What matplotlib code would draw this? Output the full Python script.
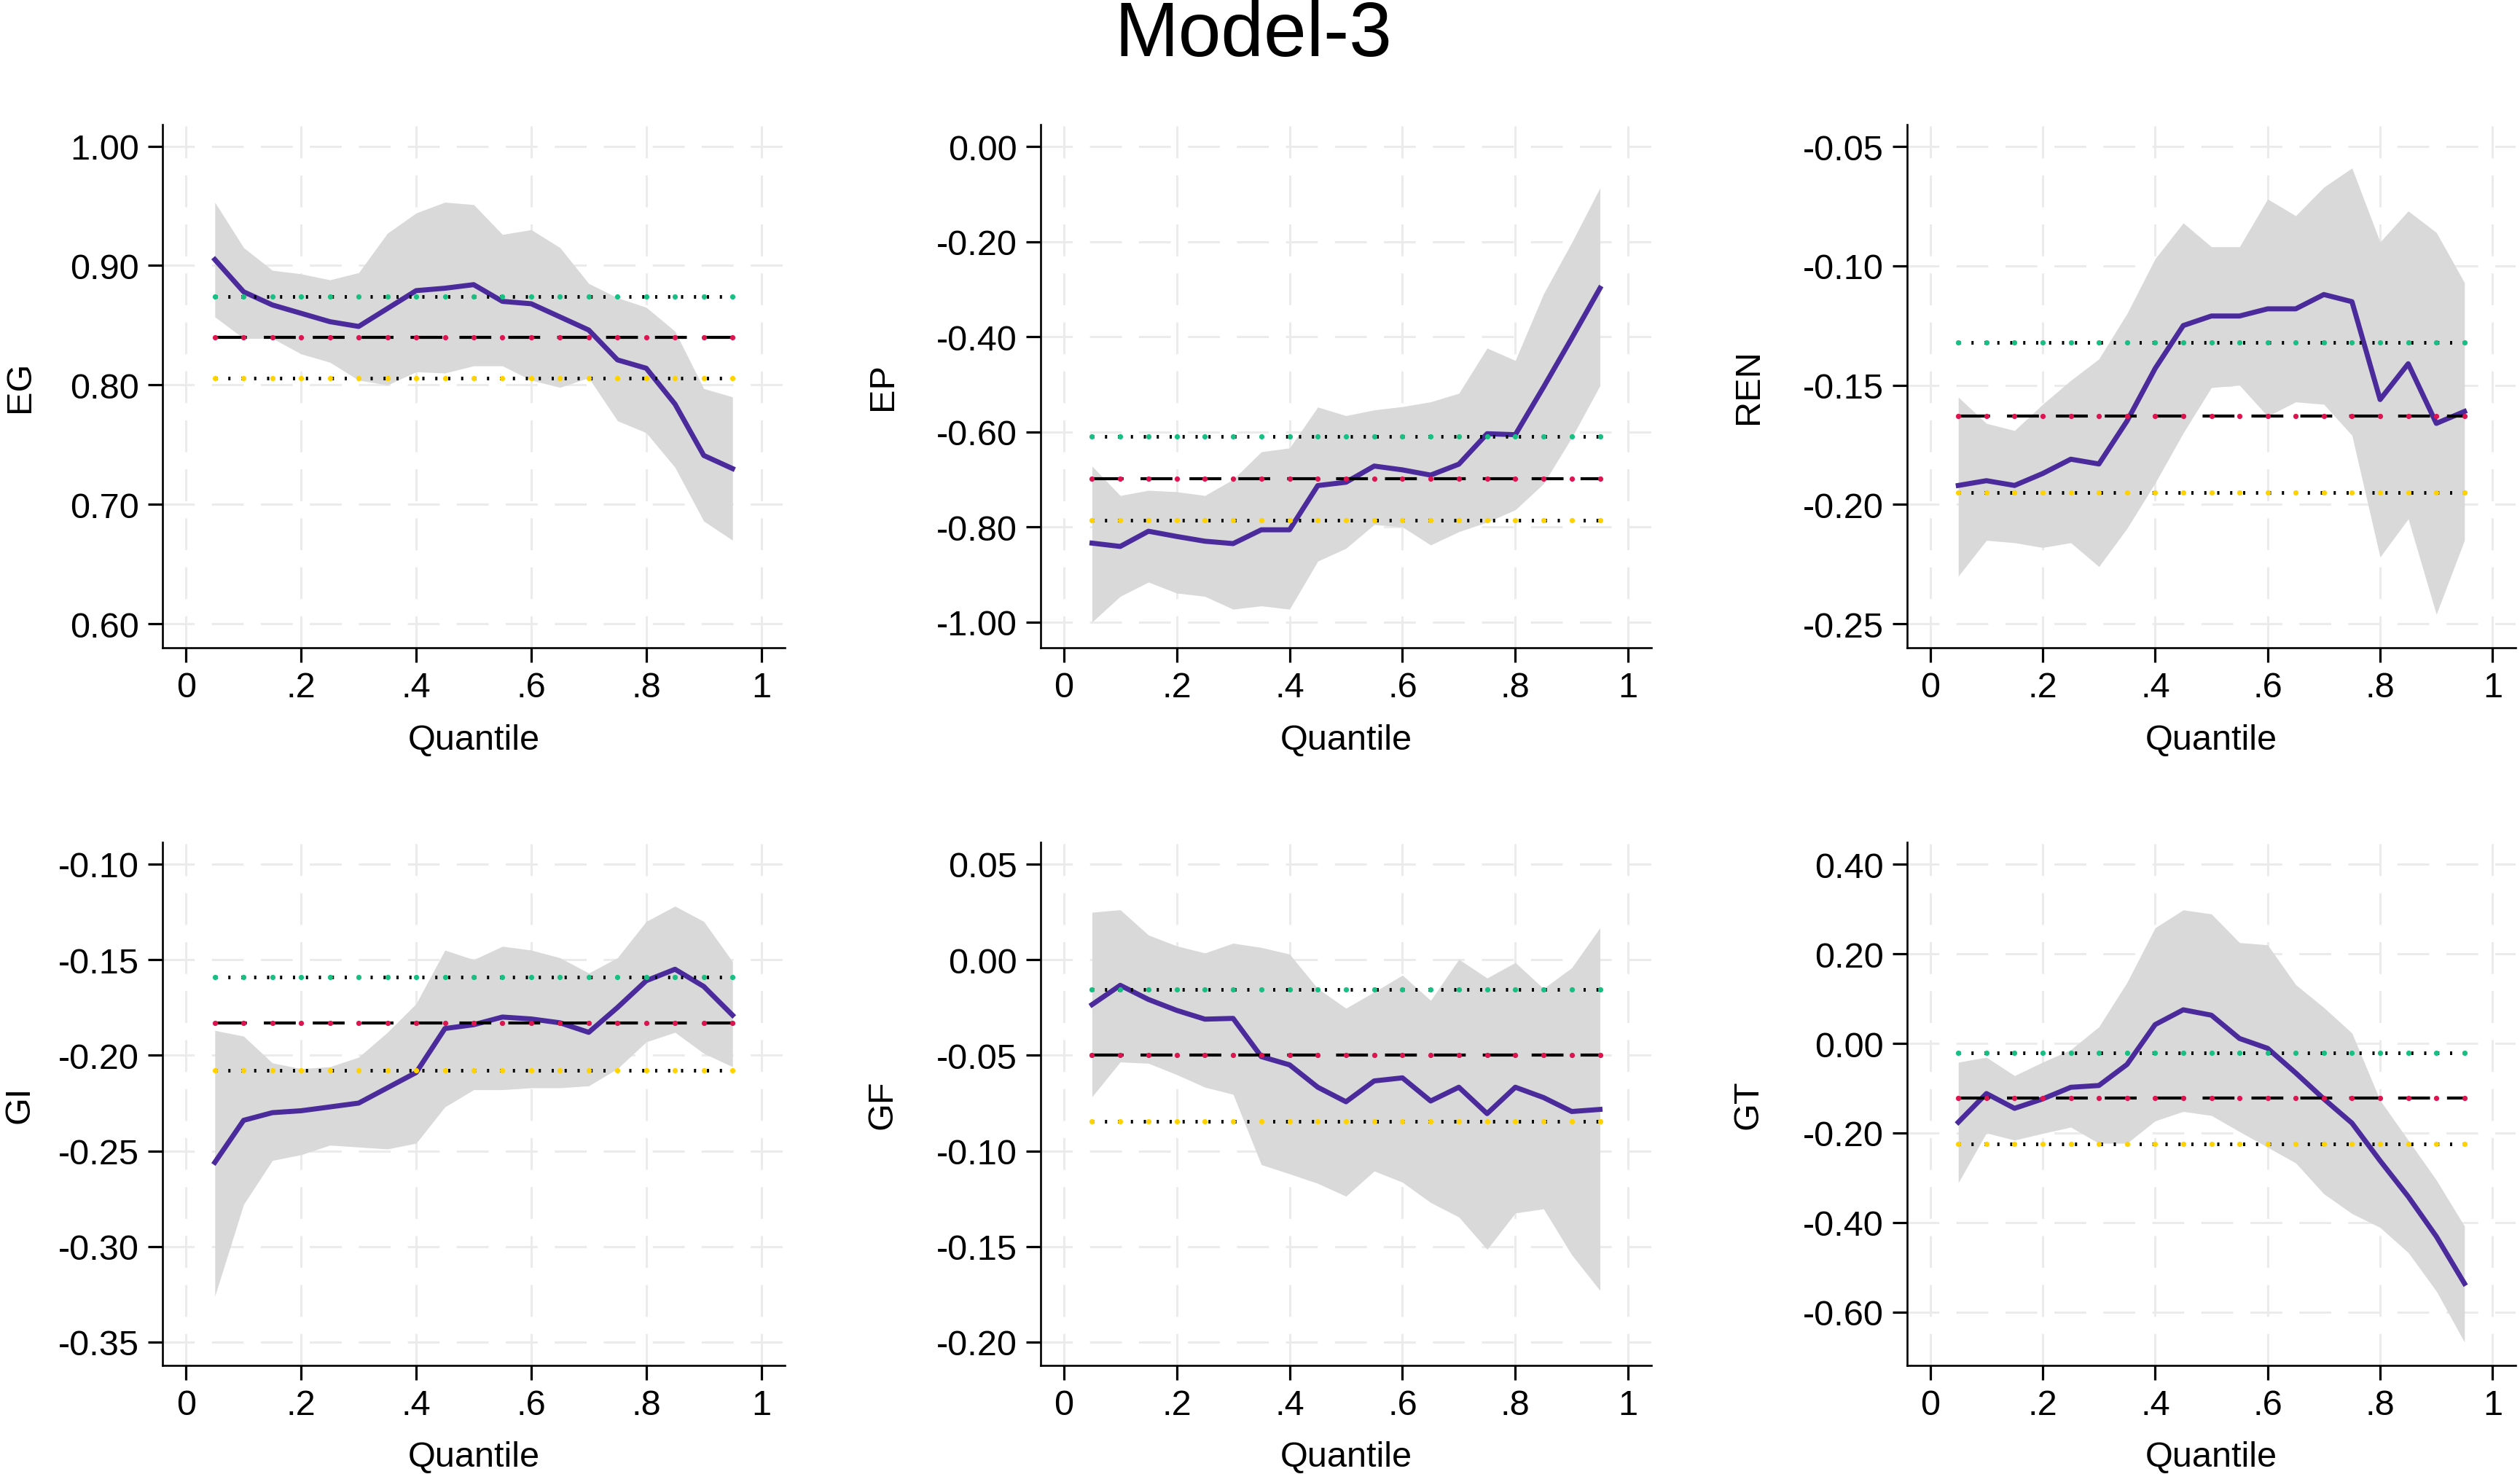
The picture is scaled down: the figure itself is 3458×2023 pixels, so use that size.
import matplotlib
matplotlib.use("Agg")
import matplotlib.pyplot as plt
import numpy as np

plt.rcParams['font.family'] = ['Liberation Sans', 'DejaVu Sans']
plt.rcParams['axes.unicode_minus'] = False

# ---------------- data ----------------
quantiles = [0.05, 0.10, 0.15, 0.20, 0.25, 0.30, 0.35, 0.40, 0.45, 0.50,
             0.55, 0.60, 0.65, 0.70, 0.75, 0.80, 0.85, 0.90, 0.95]

EG_coef = [0.905, 0.878, 0.867, 0.860, 0.853, 0.849, 0.864, 0.879, 0.881, 0.884,
           0.870, 0.868, 0.857, 0.846, 0.821, 0.814, 0.784, 0.741, 0.730]
EG_hi = [0.953, 0.915, 0.896, 0.893, 0.888, 0.894, 0.927, 0.944, 0.953, 0.951,
         0.926, 0.930, 0.915, 0.885, 0.873, 0.865, 0.845, 0.797, 0.790]
EG_lo = [0.857, 0.839, 0.839, 0.826, 0.819, 0.804, 0.800, 0.811, 0.810, 0.816,
         0.816, 0.804, 0.798, 0.806, 0.770, 0.760, 0.731, 0.686, 0.670]
EG_ols = [0.840, 0.874, 0.806]   # estimate, upper, lower

EP_coef = [-0.834, -0.841, -0.809, -0.820, -0.830, -0.835, -0.806, -0.806, -0.713, -0.706,
           -0.672, -0.680, -0.691, -0.668, -0.604, -0.606, -0.506, -0.403, -0.298]
EP_hi = [-0.672, -0.734, -0.723, -0.726, -0.734, -0.700, -0.642, -0.634, -0.548, -0.566,
         -0.554, -0.547, -0.537, -0.519, -0.424, -0.450, -0.310, -0.202, -0.087]
EP_lo = [-1.000, -0.946, -0.916, -0.939, -0.946, -0.973, -0.966, -0.973, -0.872, -0.845,
         -0.795, -0.800, -0.838, -0.810, -0.790, -0.764, -0.709, -0.612, -0.503]
EP_ols = [-0.698, -0.610, -0.786]

REN_coef = [-0.192, -0.190, -0.192, -0.187, -0.181, -0.183, -0.165, -0.143, -0.125, -0.121,
            -0.121, -0.118, -0.118, -0.112, -0.115, -0.156, -0.141, -0.166, -0.161]
REN_hi = [-0.155, -0.166, -0.169, -0.158, -0.148, -0.139, -0.120, -0.097, -0.082, -0.092,
          -0.092, -0.072, -0.079, -0.067, -0.059, -0.090, -0.077, -0.086, -0.107]
REN_lo = [-0.230, -0.215, -0.216, -0.218, -0.216, -0.226, -0.210, -0.191, -0.170, -0.151,
          -0.150, -0.163, -0.157, -0.158, -0.171, -0.222, -0.206, -0.246, -0.215]
REN_ols = [-0.163, -0.132, -0.195]

GI_coef = [-0.256, -0.234, -0.230, -0.229, -0.227, -0.225, -0.217, -0.209, -0.186, -0.184,
           -0.180, -0.181, -0.183, -0.188, -0.175, -0.161, -0.155, -0.164, -0.179]
GI_hi = [-0.187, -0.190, -0.204, -0.207, -0.206, -0.201, -0.188, -0.173, -0.145, -0.150,
         -0.143, -0.145, -0.149, -0.157, -0.149, -0.130, -0.122, -0.130, -0.151]
GI_lo = [-0.326, -0.278, -0.255, -0.252, -0.247, -0.248, -0.249, -0.246, -0.227, -0.218,
         -0.218, -0.217, -0.217, -0.216, -0.207, -0.193, -0.188, -0.199, -0.206]
GI_ols = [-0.183, -0.159, -0.208]

GF_coef = [-0.0235, -0.0134, -0.0208, -0.0265, -0.0311, -0.0307, -0.0507, -0.0550, -0.0667, -0.0743,
           -0.0634, -0.0618, -0.0739, -0.0667, -0.0805, -0.0667, -0.0721, -0.0794, -0.0783]
GF_hi = [0.0248, 0.0261, 0.0129, 0.0072, 0.0035, 0.0086, 0.0064, 0.0029, -0.0151, -0.0254,
         -0.0169, -0.0081, -0.0213, 0.0002, -0.0096, -0.0015, -0.0151, -0.0042, 0.0167]
GF_lo = [-0.0717, -0.0535, -0.0542, -0.0601, -0.0667, -0.0704, -0.1072, -0.1120, -0.1170, -0.1237,
         -0.1105, -0.1164, -0.1270, -0.1346, -0.1515, -0.1325, -0.1303, -0.1544, -0.1730]
GF_ols = [-0.0498, -0.0156, -0.0844]

GT_coef = [-0.176, -0.112, -0.145, -0.124, -0.098, -0.094, -0.047, 0.042, 0.075, 0.063,
           0.011, -0.011, -0.066, -0.124, -0.178, -0.262, -0.342, -0.431, -0.536]
GT_hi = [-0.042, -0.031, -0.072, -0.042, -0.014, 0.037, 0.136, 0.258, 0.298, 0.289,
         0.225, 0.220, 0.131, 0.080, 0.023, -0.127, -0.216, -0.305, -0.408]
GT_lo = [-0.311, -0.200, -0.216, -0.201, -0.187, -0.223, -0.223, -0.173, -0.152, -0.161,
         -0.197, -0.232, -0.267, -0.336, -0.380, -0.411, -0.467, -0.553, -0.667]
GT_ols = [-0.122, -0.021, -0.225]

panel_names = ["EG", "EP", "REN", "GI", "GF", "GT"]
panel_coef = [EG_coef, EP_coef, REN_coef, GI_coef, GF_coef, GT_coef]
panel_hi = [EG_hi, EP_hi, REN_hi, GI_hi, GF_hi, GT_hi]
panel_lo = [EG_lo, EP_lo, REN_lo, GI_lo, GF_lo, GT_lo]
panel_ols = [EG_ols, EP_ols, REN_ols, GI_ols, GF_ols, GT_ols]

y_ticks = [
    [1.00, 0.90, 0.80, 0.70, 0.60],
    [0.00, -0.20, -0.40, -0.60, -0.80, -1.00],
    [-0.05, -0.10, -0.15, -0.20, -0.25],
    [-0.10, -0.15, -0.20, -0.25, -0.30, -0.35],
    [0.05, 0.00, -0.05, -0.10, -0.15, -0.20],
    [0.40, 0.20, 0.00, -0.20, -0.40, -0.60],
]
y_limits = [
    (0.580, 1.018),
    (-1.054, 0.046),
    (-0.260, -0.0408),
    (-0.3622, -0.0886),
    (-0.2122, 0.0614),
    (-0.719, 0.449),
]
x_ticks = [0, 0.2, 0.4, 0.6, 0.8, 1.0]
x_ticklabels = ["0", ".2", ".4", ".6", ".8", "1"]
title = "Model-3"
xlabel = "Quantile"

# ---------------- style ----------------
W, H = 3458, 2024
C_COEF = "#4b2a9c"
C_BAND = "#d9d9d9"
C_RED = "#dc1450"
C_GREEN = "#18be82"
C_YELLOW = "#ffd200"
C_GRID = "#ebebeb"
FS = 35

col_px = [(223, 1077), (1428, 2266), (2617, 3452)]
row_px = [(172, 890), (1157, 1875)]
ylabel_x_px = [27, 1211, 2399]

fig = plt.figure(figsize=(W / 100, H / 100), dpi=100)
fig.patch.set_facecolor("white")

fig.text(1720 / W, 1 - 50 / H, title, ha="center", va="center", fontsize=76)

for i in range(6):
    r, c = divmod(i, 3)
    x0, x1 = col_px[c]
    y0, y1 = row_px[r]
    ax = fig.add_axes([x0 / W, 1 - y1 / H, (x1 - x0) / W, (y1 - y0) / H])
    ax.set_facecolor("white")
    for s in ["top", "right"]:
        ax.spines[s].set_visible(False)
    for s in ["left", "bottom"]:
        ax.spines[s].set_linewidth(1.9)
        ax.spines[s].set_color("black")

    ax.set_xlim(-0.041, 1.041)
    ax.set_ylim(*y_limits[i])
    ax.set_xticks(x_ticks)
    ax.set_xticklabels(x_ticklabels)
    ax.set_yticks(y_ticks[i])
    ax.set_yticklabels(["%.2f" % v for v in y_ticks[i]])
    ax.tick_params(axis="both", direction="out", length=14.4, width=2.3,
                   labelsize=FS, colors="black")
    ax.tick_params(axis="x", pad=8.5)
    ax.tick_params(axis="y", pad=9)

    ax.set_axisbelow(True)
    ax.grid(True, color=C_GRID, linewidth=2.2, linestyle=(0, (14.3, 7.7)))

    q = np.array(quantiles)
    ax.fill_between(q, panel_lo[i], panel_hi[i], color=C_BAND, linewidth=0, zorder=2)
    ax.plot(q, panel_coef[i], color=C_COEF, linewidth=5.0, zorder=3,
            solid_joinstyle="round")

    est, up, lo = panel_ols[i]
    # OLS upper bound (green dots) and lower bound (yellow dots)
    for val, mc in [(up, C_GREEN), (lo, C_YELLOW)]:
        ax.plot(q, [val] * len(q), color="black", linewidth=3.6,
                linestyle=(0, (0.6, 2.95)), zorder=4)
        ax.plot(q, [val] * len(q), linestyle="none", marker="o", markersize=5.2,
                markerfacecolor=mc, markeredgewidth=0, zorder=5)
    # OLS estimate (red dots, dashed)
    ax.plot(q, [est] * len(q), color="black", linewidth=3.0,
            linestyle=(0, (10.5, 5.6)), zorder=4)
    ax.plot(q, [est] * len(q), linestyle="none", marker="o", markersize=5.2,
            markerfacecolor=C_RED, markeredgewidth=0, zorder=5)

    fig.text(ylabel_x_px[c] / W, 1 - (y0 + y1) / 2 / H, panel_names[i],
             rotation=90, ha="center", va="center", fontsize=FS)
    fig.text((x0 + x1) / 2 / W, 1 - (y1 + 126) / H, xlabel,
             ha="center", va="center", fontsize=FS)

fig.savefig("out.png", dpi=100, facecolor="white")
